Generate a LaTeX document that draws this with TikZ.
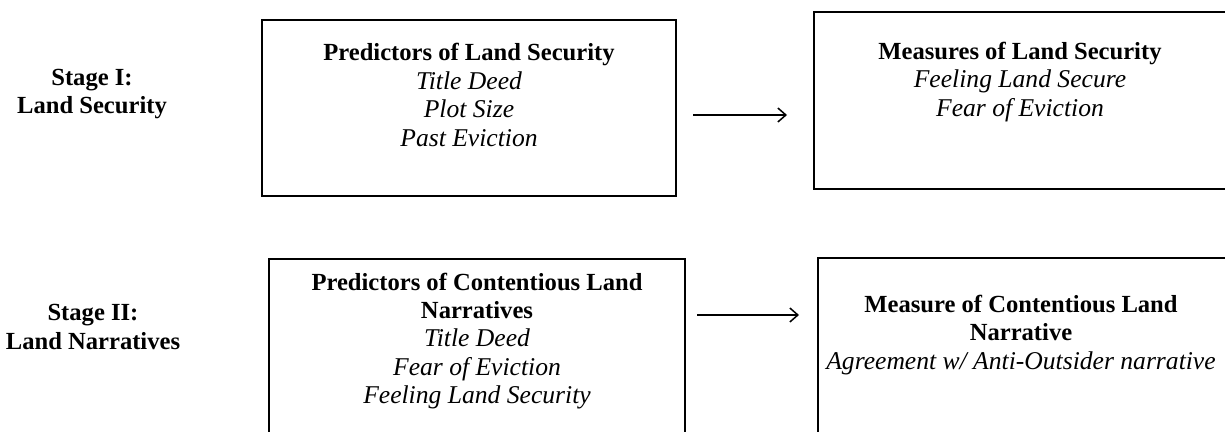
\documentclass[tikz,border=0pt]{standalone}
\usepackage{fontspec}
\setmainfont{Liberation Serif}
\usetikzlibrary{arrows.meta}
% variable names are set in a slightly larger italic
\newcommand\vartext[1]{{\fontsize{12.8pt}{14.2pt}\selectfont\itshape #1}}
\begin{document}
\begin{tikzpicture}[x=0.5pt,y=-0.5pt,
  box/.style={draw=black, line width=1pt, rectangle, inner sep=0pt},
  boxtext/.style={align=center, inner sep=0pt, font=\fontsize{12.3pt}{14.2pt}\selectfont},
  stagelabel/.style={align=center, inner sep=0pt, font=\fontsize{12.3pt}{14.2pt}\selectfont\bfseries},
  flow/.style={line width=0.75pt, -{Straight Barb[length=4pt,width=7pt]}}]
\useasboundingbox (0,0) rectangle (1225,432);
\clip (0,0) rectangle (1225,432);

% stage labels
\node[stagelabel] (s1) at (92,94) {Stage I:\\Land Security};
\node[stagelabel] (s2) at (93,327) {Stage II:\\Land Narratives};

% stage I boxes
\node[box, minimum width=207pt, minimum height=88pt] (b1) at (469,108) {};
\node[boxtext] (t1) at (469,95) {\textbf{Predictors of Land Security}\\\vartext{Title Deed}\\\vartext{Plot Size}\\\vartext{Past Eviction}};
\node[box, minimum width=206pt, minimum height=88.5pt] (b2) at (1020,100.5) {};
\node[boxtext] (t2) at (1020,82) {\textbf{Measures of Land Security}\\\vartext{Feeling Land Secure}\\\vartext{Fear of Eviction}};

% stage II boxes
\node[box, minimum width=208pt, minimum height=100.5pt] (b3) at (477,359.5) {};
\node[boxtext] (t3) at (477,341) {\textbf{Predictors of Contentious Land}\\\textbf{Narratives}\\\vartext{Title Deed}\\\vartext{Fear of Eviction}\\\vartext{Feeling Land Security}};
\node[box, minimum width=204pt, minimum height=101pt] (b4) at (1022,359) {};
\node[boxtext] (t4) at (1021,335) {\textbf{Measure of Contentious Land}\\\textbf{Narrative}\\\vartext{Agreement w/ Anti-Outsider narrative}};

% arrows between the boxes
\coordinate (a1s) at (693,115);
\coordinate (a1e) at (787,115);
\coordinate (a2s) at (697,315);
\coordinate (a2e) at (799,315);
\draw[flow] (a1s) -- (a1e);
\draw[flow] (a2s) -- (a2e);
\end{tikzpicture}
\end{document}
